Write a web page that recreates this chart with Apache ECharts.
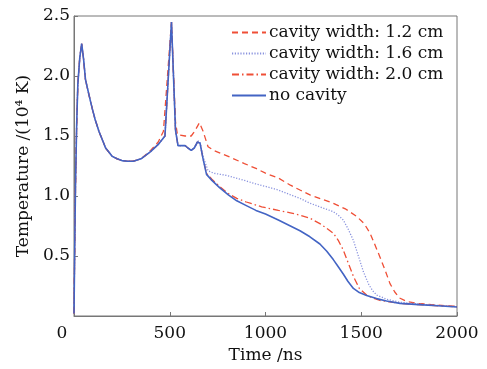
<!DOCTYPE html>
<html>
<head>
<meta charset="utf-8">
<script src="https://cdn.jsdelivr.net/npm/echarts@6/dist/echarts.min.js"></script>
<style>html,body{margin:0;padding:0;background:#fff}#c{width:487px;height:369px}</style>
</head>
<body>
<div id="c"></div>
<script>
// ---- data (time in ns, temperature in 10^4 K) ----
const seriesNames = ['cavity width: 1.2 cm', 'cavity width: 1.6 cm', 'cavity width: 2.0 cm', 'no cavity'];
const xTicks = [0, 500, 1000, 1500, 2000];
const yTicks = [0, 0.5, 1.0, 1.5, 2.0, 2.5];

const commonStart = [[0,0.02],[4,0.6],[8,1.1],[14,1.6],[20,1.93],[30,2.15],[40,2.27],[50,2.14],[60,1.97],[80,1.83],[95,1.73],[110,1.64],[130,1.54],[150,1.46],[165,1.40],[185,1.36],[200,1.33],[225,1.31],[250,1.295],[280,1.29],[310,1.29],[350,1.31]];

const width12 = [[400,1.38],[440,1.45],[467,1.54],[509,2.45],[530,1.62],[540,1.51],[580,1.50],[612,1.50],[630,1.54],[655,1.61],[674,1.54],[700,1.41],[730,1.38],[760,1.36],[820,1.32],[890,1.27],[950,1.23],[1000,1.19],[1067,1.15],[1130,1.09],[1180,1.05],[1232,1.01],[1300,0.97],[1353,0.94],[1420,0.89],[1476,0.83],[1515,0.77],[1546,0.69],[1575,0.58],[1598,0.49],[1625,0.38],[1650,0.27],[1675,0.20],[1700,0.15],[1740,0.12],[1800,0.105],[1900,0.09],[2000,0.08]];

const width16 = [[400,1.37],[440,1.43],[475,1.50],[509,2.45],[530,1.55],[543,1.42],[580,1.42],[595,1.40],[612,1.38],[628,1.40],[645,1.46],[658,1.45],[674,1.33],[700,1.21],[730,1.19],[800,1.17],[890,1.13],[950,1.10],[1000,1.08],[1067,1.05],[1130,1.01],[1180,0.98],[1232,0.94],[1300,0.90],[1353,0.87],[1380,0.84],[1406,0.80],[1430,0.73],[1459,0.63],[1485,0.50],[1511,0.37],[1540,0.26],[1560,0.21],[1580,0.175],[1632,0.14],[1700,0.115],[1800,0.10],[1900,0.088],[2000,0.078]];

const width20 = [[400,1.37],[440,1.43],[475,1.50],[509,2.45],[530,1.55],[543,1.42],[580,1.42],[595,1.40],[612,1.38],[628,1.40],[645,1.45],[658,1.44],[674,1.31],[692,1.19],[720,1.14],[760,1.08],[806,1.02],[850,0.98],[900,0.95],[980,0.91],[1067,0.88],[1130,0.86],[1180,0.84],[1232,0.815],[1284,0.77],[1320,0.73],[1354,0.69],[1380,0.63],[1406,0.55],[1430,0.45],[1459,0.33],[1490,0.23],[1528,0.175],[1560,0.15],[1598,0.13],[1700,0.105],[1800,0.095],[1900,0.085],[2000,0.077]];

const noCavity = [[400,1.37],[440,1.43],[475,1.50],[509,2.45],[530,1.55],[543,1.42],[580,1.42],[595,1.40],[612,1.38],[628,1.40],[645,1.45],[658,1.44],[674,1.31],[692,1.18],[720,1.13],[760,1.07],[806,1.01],[850,0.96],[900,0.92],[950,0.88],[1000,0.85],[1067,0.80],[1130,0.75],[1180,0.71],[1232,0.66],[1284,0.60],[1320,0.54],[1354,0.47],[1380,0.41],[1406,0.35],[1430,0.29],[1459,0.23],[1490,0.195],[1528,0.17],[1580,0.145],[1632,0.125],[1702,0.105],[1800,0.095],[1900,0.085],[2000,0.075]];

const seriesData = [commonStart.concat(width12), commonStart.concat(width16), commonStart.concat(width20), commonStart.concat(noCavity)];
const colors = ['#ef4f36', '#8a93de', '#ef4f36', '#4364c4'];
const dashTypes = [[6,4], [1.2,1.6], [7,3,1.5,3], 'solid'];
const widths = [1.3, 1.3, 1.3, 1.6];

const FONT = 'DejaVu Serif';
const chart = echarts.init(document.getElementById('c'), null, {renderer: 'canvas'});
chart.setOption({
  animation: false,
  backgroundColor: '#fff',
  grid: {left: 74, right: 30, top: 16, bottom: 53, show: true, borderColor: '#777', borderWidth: 1, backgroundColor: 'transparent'},
  legend: {
    orient: 'vertical', left: 226, top: 17, itemWidth: 34, itemHeight: 10, itemGap: 0,
    itemStyle: {opacity: 0, color: 'transparent', borderWidth: 0},
    textStyle: {fontFamily: FONT, fontSize: 17, color: '#111', lineHeight: 21, padding: [0,0,0,-2]},
    data: seriesNames
  },
  xAxis: {
    type: 'value', min: 0, max: 2000, interval: 500,
    name: 'Time /ns', nameLocation: 'middle', nameGap: 28,
    nameTextStyle: {fontFamily: FONT, fontSize: 17, color: '#111'},
    axisLine: {lineStyle: {color: '#777', width: 1}},
    axisTick: {inside: true, length: 4, lineStyle: {color: '#777'}, customValues: xTicks},
    axisLabel: {fontFamily: FONT, fontSize: 17, color: '#111', margin: 9, customValues: xTicks,
      formatter: v => v === 0 ? '{z|0}' : String(v),
      rich: {z: {fontFamily: FONT, fontSize: 17, color: '#111', padding: [0, 24, 0, 0]}}},
    splitLine: {show: false}
  },
  yAxis: {
    type: 'value', min: 0, max: 2.5, interval: 0.5,
    name: 'Temperature /(10\u2074 K)', nameLocation: 'middle', nameGap: 35,
    nameTextStyle: {fontFamily: FONT, fontSize: 17, color: '#111'},
    axisLine: {show: true, lineStyle: {color: '#777', width: 1}},
    axisTick: {inside: true, length: 4, lineStyle: {color: '#777'}},
    axisLabel: {fontFamily: FONT, fontSize: 17, color: '#111', margin: 4,
      formatter: v => v === 0 ? '' : v.toFixed(1)},
    splitLine: {show: false}
  },
  series: seriesNames.map((n, i) => ({
    name: n, type: 'line', data: seriesData[i], symbol: 'none', smooth: false,
    color: colors[i],
    lineStyle: {color: colors[i], width: widths[i], type: dashTypes[i]}
  }))
});
</script>
</body>
</html>
